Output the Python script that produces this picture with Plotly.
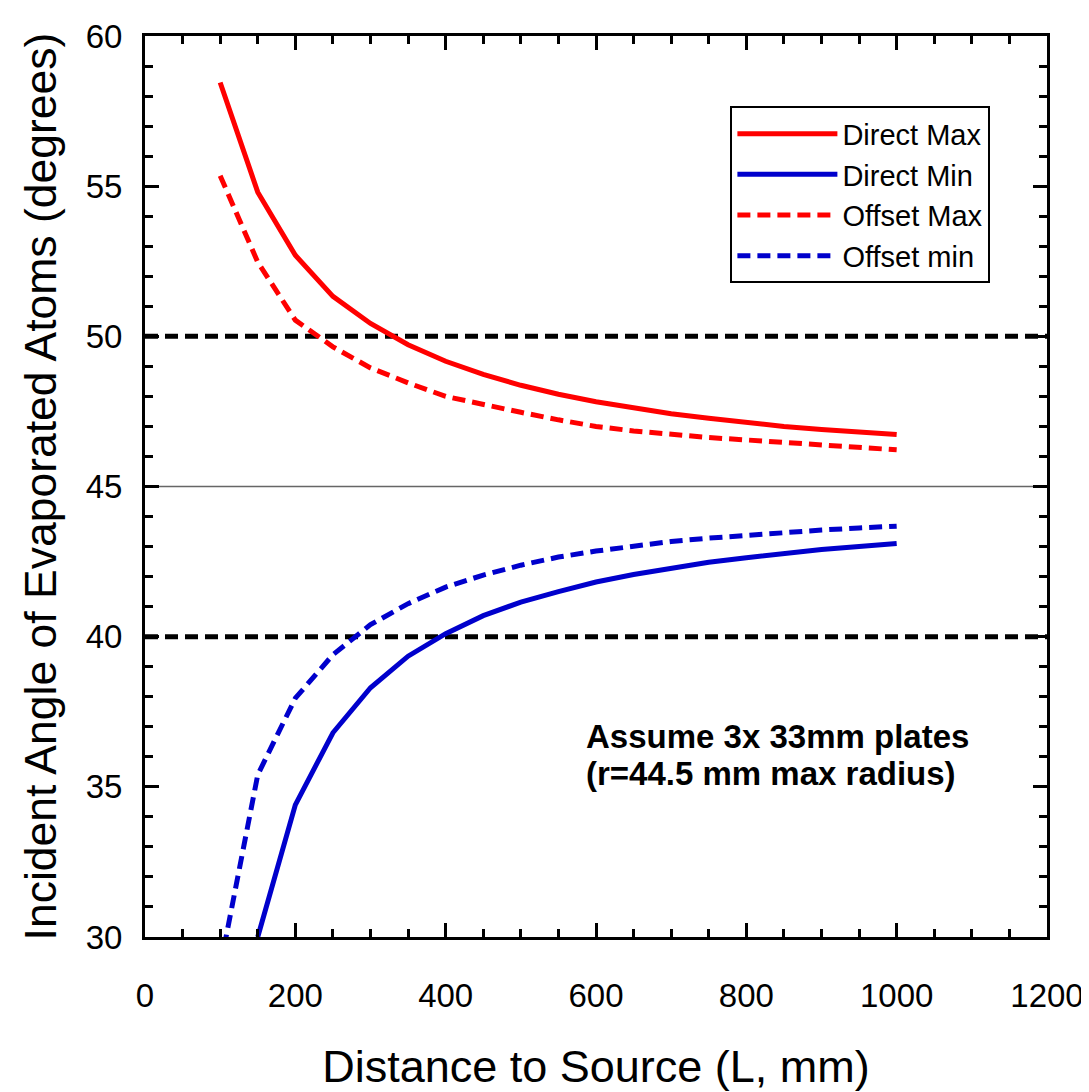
import plotly.graph_objects as go

# ---- data ----
x_vals = [100, 150, 200, 250, 300, 350, 400, 450, 500, 550, 600, 650, 700, 750, 800, 850, 900, 950, 1000]
direct_max = [58.45, 54.8, 52.7, 51.33, 50.43, 49.72, 49.17, 48.73, 48.37, 48.07, 47.82, 47.6, 47.42, 47.27, 47.13, 47.0, 46.9, 46.81, 46.73]
offset_max = [55.35, 52.47, 50.54, 49.65, 48.95, 48.45, 48.0, 47.72, 47.47, 47.22, 47.0, 46.85, 46.73, 46.63, 46.55, 46.47, 46.4, 46.31, 46.22]
x_direct_min = [150, 200, 250, 300, 350, 400, 450, 500, 550, 600, 650, 700, 750, 800, 850, 900, 950, 1000]
direct_min = [30.0, 34.4, 36.8, 38.3, 39.35, 40.1, 40.7, 41.15, 41.5, 41.82, 42.07, 42.28, 42.48, 42.63, 42.77, 42.9, 43.0, 43.1]
offset_min = [29.0, 35.4, 37.95, 39.4, 40.4, 41.1, 41.65, 42.05, 42.38, 42.65, 42.85, 43.02, 43.17, 43.28, 43.38, 43.47, 43.55, 43.62, 43.68]

ref_lines_dashed = [50, 40]
ref_line_mid = 45

note_lines = ["Assume 3x 33mm plates", "(r=44.5 mm max radius)"]

x_range = [0, 1200]
y_range = [30, 60]

FONT = "Arial, Liberation Sans, sans-serif"
RED = "#FF0000"
BLUE = "#0000CC"
DASH = "13px,7px"
LW = 5

fig = go.Figure()
fig.add_trace(go.Scatter(x=x_vals, y=direct_max, mode="lines", name="Direct Max",
                         line=dict(color=RED, width=LW)))
fig.add_trace(go.Scatter(x=x_direct_min, y=direct_min, mode="lines", name="Direct Min",
                         line=dict(color=BLUE, width=LW)))
fig.add_trace(go.Scatter(x=x_vals, y=offset_max, mode="lines", name="Offset Max",
                         line=dict(color=RED, width=LW, dash=DASH)))
fig.add_trace(go.Scatter(x=x_vals, y=offset_min, mode="lines", name="Offset min",
                         line=dict(color=BLUE, width=LW, dash=DASH)))

for yv in ref_lines_dashed:
    fig.add_shape(type="line", xref="paper", x0=0, x1=1, yref="y", y0=yv, y1=yv,
                  line=dict(color="black", width=5, dash=DASH), layer="below")
fig.add_shape(type="line", xref="paper", x0=0, x1=1, yref="y", y0=ref_line_mid, y1=ref_line_mid,
              line=dict(color="#666666", width=1.5), layer="below")

for txt, yv in zip(note_lines, [36.66, 35.46]):
    fig.add_annotation(x=584, y=yv, xref="x", yref="y", xanchor="left", yanchor="middle",
                       text="<b>" + txt + "</b>", showarrow=False, align="left",
                       font=dict(family=FONT, size=33, color="black"))

axis_common = dict(
    showline=True, linecolor="black", linewidth=3, mirror="allticks",
    ticks="inside", tickcolor="black", tickwidth=3, ticklen=14,
    showgrid=False, zeroline=False, automargin=False,
    tickfont=dict(family=FONT, size=33, color="black"),
)

fig.update_xaxes(range=x_range, dtick=200, tick0=0,
                 minor=dict(dtick=50, ticks="inside", ticklen=8, tickwidth=3, tickcolor="black"),
                 title=dict(text="Distance to Source (L, mm)", font=dict(family=FONT, size=45, color="black"), standoff=40),
                 ticklabelstandoff=27,
                 **axis_common)
fig.update_yaxes(range=y_range, dtick=5, tick0=30,
                 minor=dict(dtick=1, ticks="inside", ticklen=8, tickwidth=3, tickcolor="black"),
                 title=dict(text="Incident Angle of Evaporated Atoms (degrees)", font=dict(family=FONT, size=44.5, color="black"), standoff=16),
                 ticklabelstandoff=13,
                 **axis_common)

fig.update_layout(
    width=1081, height=1084,
    margin=dict(l=137, r=42, t=28, b=155),
    plot_bgcolor="white", paper_bgcolor="white",
    showlegend=True,
    legend=dict(x=0.649, y=0.922, xanchor="left", yanchor="top",
                bordercolor="black", borderwidth=2, bgcolor="white",
                font=dict(family=FONT, size=29, color="black"),
                itemwidth=100, tracegroupgap=0),
    font=dict(family=FONT),
)

fig.write_html("out.html")
